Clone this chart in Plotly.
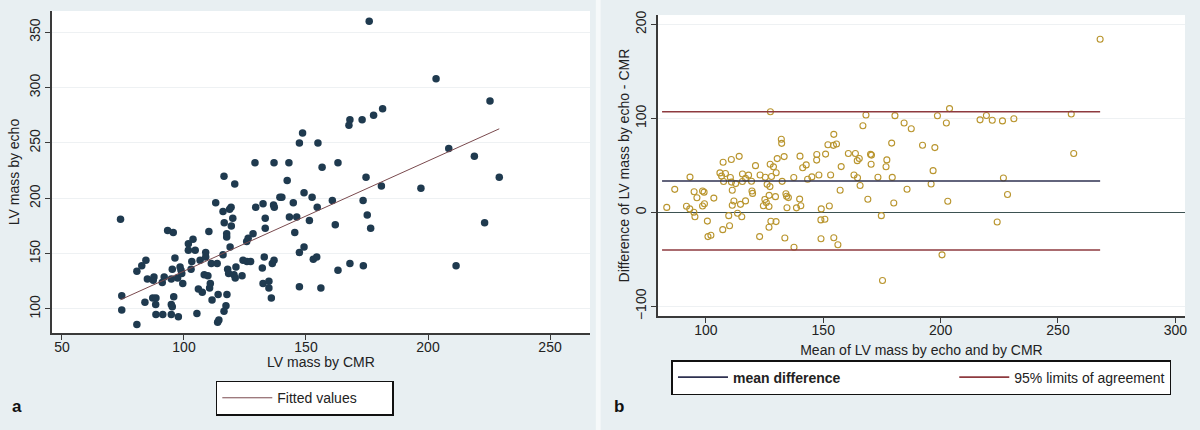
import numpy as np
import plotly.graph_objects as go

# LV mass by CMR (x) and by echo (y)
cmr = [74, 74.5, 74.5, 80.7, 80.7, 82.7, 84.4, 84, 85, 87.4, 87.2, 88.5, 88.4, 88.5, 87.7,
       91.3, 91.1, 91.9, 93.3, 95.6, 94.8, 95.2, 94.8, 94.8, 95.2, 95.8, 96.3, 97.7, 97.4, 98.4,
       99.1, 99.5, 98.8, 101.8, 103.7, 101.8, 103.2, 102.9, 104.6, 105.3, 105.9, 107.5, 106.6, 108.3, 108.9,
       108.9, 110.2, 109.8, 110.8, 110.5, 111.5, 111.2, 113, 113.6, 114, 113.8, 114.3, 116.4, 116, 116.5,
       116, 117.5, 117.5, 117.9, 118.3, 117.6, 117.2, 116.4, 118.9, 119.3, 118.7, 119.4, 120, 120.8, 120.5,
       121, 121.3, 123.8, 124.2, 125.7, 126.3, 125.8, 127.3, 128.3, 129.1, 129.4, 132.1, 132.4, 132.9, 133.3,
       133.3, 132.4, 134.8, 134.8, 135.8, 136.2, 136.9, 136.9, 136.7, 137, 139.3, 140.1, 142.3, 143, 143.2,
       144.8, 145.4, 146.2, 147.3, 147.3, 147.3, 175.9, 203.3, 225.4, 181.4, 177.7, 173, 168, 167.6, 148.6,
       154.9, 156.6, 163.1, 174.6, 180.9, 197.1, 208.5, 219, 229.2, 223.2, 211.5, 149.2, 152.5, 154.6, 160.8,
       173.4, 175.1, 176.5, 162, 151.4, 149.2, 153, 154.4, 163.1, 168, 173.5, 156.1]
echo = [181, 112, 99, 86, 134, 139, 144, 106, 127, 126, 110, 110, 104, 95, 129,
        95, 124, 129, 171, 169, 127, 136, 95, 104, 102, 111, 146, 93, 128, 138,
        132, 123, 135, 159, 163, 153, 143, 136, 153, 96, 118, 115, 144, 131, 151,
        147, 170, 130, 123, 119, 108, 141, 196, 141, 113, 88, 90, 220, 188, 178,
        149, 168, 165, 136, 132, 113, 103, 98, 156, 192, 190, 175, 182, 213, 131,
        128, 138, 130, 144, 161, 164, 143, 143, 168, 232, 192, 137, 195, 147, 182,
        173, 123, 125, 119, 110, 141, 144, 232, 194, 192, 201, 201, 216, 232, 183,
        196, 169, 183, 151, 120, 250, 360, 308, 288, 281, 275, 271, 271, 266, 259,
        250, 228, 232, 219, 211, 209, 245, 238, 219, 178, 139, 205, 201, 192, 198,
        198, 185, 173, 176, 180, 156, 145, 147, 135, 141, 139, 119]

# Bland-Altman reference lines
mean_diff = 33.3
loa = [-40, 107]

x = np.array(cmr)
y = np.array(echo)
b1, b0 = np.polyfit(x, y, 1)
fit_x = np.array([x.min(), x.max()])
fit_y = b0 + b1 * fit_x

ba_mean = (x + y) / 2
ba_diff = y - x
lx = [ba_mean.min() - 2, ba_mean.max()]

BG = "#e8eff2"
NAVY = "#1f3a4f"
MAROON = "#8e3a3f"
FONT = "Liberation Sans, Arial, sans-serif"
PAD = "&nbsp;" * 28  # widen first legend entry, like stata's two-column key

fig = go.Figure()

# panel a
fig.add_trace(go.Scatter(x=cmr, y=echo, mode="markers", showlegend=False,
                         marker=dict(color=NAVY, size=7.5, line=dict(width=0)),
                         xaxis="x", yaxis="y"))
fig.add_trace(go.Scatter(x=fit_x, y=fit_y, mode="lines", name="Fitted values",
                         line=dict(color="#7a4a4e", width=1), xaxis="x", yaxis="y",
                         legend="legend"))

# panel b
fig.add_trace(go.Scatter(x=ba_mean, y=ba_diff, mode="markers", showlegend=False,
                         marker=dict(symbol="circle-open", color="#b9952e", size=6,
                                     line=dict(width=1.1)),
                         xaxis="x2", yaxis="y2"))
fig.add_trace(go.Scatter(x=lx, y=[mean_diff, mean_diff], mode="lines",
                         name="<b>mean difference</b>" + PAD,
                         line=dict(color="#2e3150", width=1.6), xaxis="x2", yaxis="y2",
                         legend="legend2"))
fig.add_trace(go.Scatter(x=[lx[0], lx[1], None, lx[0], lx[1]],
                         y=[loa[1], loa[1], None, loa[0], loa[0]], mode="lines",
                         name="95% limits of agreement",
                         line=dict(color=MAROON, width=1.6), xaxis="x2", yaxis="y2",
                         legend="legend2"))

axis_common = dict(showline=True, linecolor="#3a3a3a", linewidth=1.5, ticks="outside",
                   ticklen=5, tickcolor="#3a3a3a", tickfont=dict(size=14, color="#222"),
                   title_font=dict(size=14, color="#222"), automargin=False)

fig.update_layout(
    width=1200, height=430,
    paper_bgcolor=BG, plot_bgcolor="white",
    margin=dict(l=0, r=0, t=0, b=0),
    font=dict(family=FONT, color="#222"),
    xaxis=dict(domain=[0.0433, 0.4917], range=[45.9, 266.4], tickvals=[50, 100, 150, 200, 250],
               showgrid=False, zeroline=False, anchor="y", ticklabelstandoff=-5, **axis_common),
    yaxis=dict(domain=[0.2256, 0.9744], range=[78.3, 369.2], tickvals=[100, 150, 200, 250, 300, 350],
               tickangle=-90, showgrid=True, gridcolor="#eef1f3", gridwidth=1, zeroline=False,
               anchor="x", title=dict(text="LV mass by echo", standoff=4), **axis_common),
    xaxis2=dict(domain=[0.5483, 0.9875], range=[79.6, 304.1], tickvals=[100, 150, 200, 250, 300],
                showgrid=False, zeroline=False, anchor="y2", ticklabelstandoff=-5,
                title=dict(text="Mean of LV mass by echo and by CMR", standoff=9), **axis_common),
    yaxis2=dict(domain=[0.265, 0.965], range=[-110.3, 209.9], tickvals=[-100, 0, 100, 200],
                tickangle=-90, showgrid=True, gridcolor="#eef1f3", gridwidth=1, anchor="x2",
                title=dict(text="Difference of LV mass by echo - CMR", standoff=0),
                zeroline=True, zerolinecolor="#3d5252", zerolinewidth=1.2, **axis_common),
    legend=dict(x=0.254, y=0.074, xanchor="center", yanchor="middle", orientation="h",
                bgcolor="white", bordercolor="#111", borderwidth=1.5,
                font=dict(size=14, color="#222"), itemwidth=50, entrywidth=110),
    legend2=dict(x=0.7679, y=0.122, xanchor="center", yanchor="middle", orientation="h",
                 bgcolor="white", bordercolor="#111", borderwidth=1.5,
                 font=dict(size=14, color="#222"), itemwidth=50),
)

# white divider between the two panels
fig.add_shape(type="rect", xref="paper", yref="paper", x0=0.4965, x1=0.5005, y0=0, y1=1,
              fillcolor="#f6f9fa", line=dict(width=0), layer="below")

# x title of panel a sits tighter to its tick labels than plotly's axis title allows
fig.add_annotation(text="LV mass by CMR", xref="paper", yref="paper", x=0.2675, y=0.158,
                   xanchor="center", yanchor="middle", showarrow=False,
                   font=dict(size=14, color="#222"))
fig.add_annotation(text="<b>a</b>", xref="paper", yref="paper", x=0.008, y=0.028,
                   xanchor="left", yanchor="bottom", showarrow=False, font=dict(size=17, color="#111"))
fig.add_annotation(text="<b>b</b>", xref="paper", yref="paper", x=0.51, y=0.028,
                   xanchor="left", yanchor="bottom", showarrow=False, font=dict(size=17, color="#111"))

# drop the default page margin so the figure sits at the window origin
fig.write_html("out.html", config={"displayModeBar": False},
               post_script="document.body.style.margin='0';")
